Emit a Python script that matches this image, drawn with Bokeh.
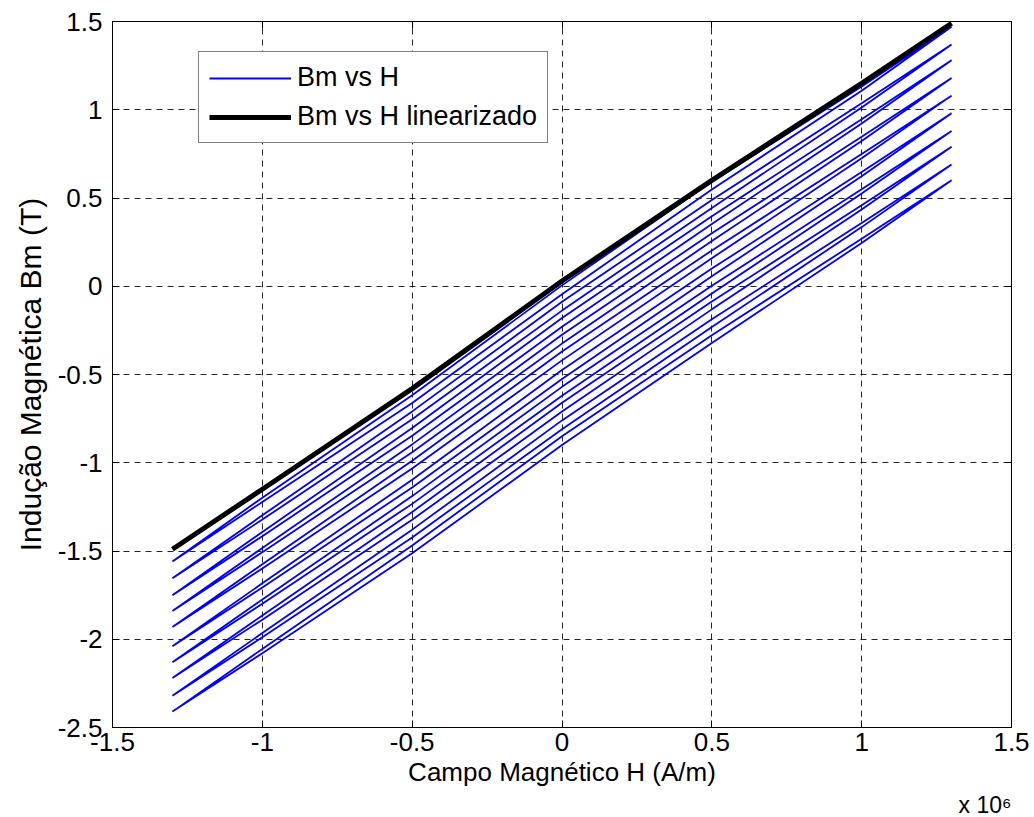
from bokeh.plotting import figure
from bokeh.models import (LinearAxis, FixedTicker, Legend, LegendItem, Title)
from bokeh.embed import file_html
from bokeh.resources import INLINE

# ---------------- data (H in units of 10^6 A/m, B in T) ----------------
H_pts = [-1.3, -1.0, -0.5, 0.0, 0.5, 1.0, 1.3]
B_linearizado = [-1.49, -1.15, -0.58, 0.03, 0.60, 1.15, 1.49]

# centre line of each measured Bm-H loop, read at H_pts
B_loop_centers = [
    [-1.56, -1.21, -0.64, -0.02, 0.57, 1.12, 1.47],
    [-1.655, -1.31, -0.731, -0.113, 0.466, 1.025, 1.37],
    [-1.75, -1.404, -0.825, -0.205, 0.375, 0.934, 1.28],
    [-1.84, -1.495, -0.918, -0.30, 0.278, 0.835, 1.18],
    [-1.93, -1.587, -1.011, -0.395, 0.181, 0.737, 1.08],
    [-2.04, -1.695, -1.118, -0.50, 0.078, 0.635, 0.98],
    [-2.13, -1.787, -1.211, -0.595, -0.019, 0.537, 0.88],
    [-2.22, -1.877, -1.301, -0.685, -0.109, 0.447, 0.79],
    [-2.32, -1.977, -1.401, -0.785, -0.209, 0.347, 0.69],
    [-2.41, -2.067, -1.491, -0.875, -0.299, 0.257, 0.60],
]
# half opening of the loops (distance of each branch from centre)
loop_half_width = [0.0, 0.012, 0.022, 0.025, 0.022, 0.012, 0.0]

x_ticks = [-1.5, -1.0, -0.5, 0.0, 0.5, 1.0, 1.5]
x_tick_labels = ["-1.5", "-1", "-0.5", "0", "0.5", "1", "1.5"]
y_ticks = [-2.5, -2.0, -1.5, -1.0, -0.5, 0.0, 0.5, 1.0, 1.5]
y_tick_labels = ["-2.5", "-2", "-1.5", "-1", "-0.5", "0", "0.5", "1", "1.5"]

# ---------------- build loops ----------------
loop_xs, loop_ys = [], []
for centers in B_loop_centers:
    lower = [c - w for c, w in zip(centers, loop_half_width)]
    upper = [c + w for c, w in zip(centers, loop_half_width)]
    loop_xs.append(H_pts + H_pts[::-1])
    loop_ys.append(lower + upper[::-1])

FONT = "Liberation Sans"

p = figure(width=1034, height=817, x_range=(-1.5, 1.5), y_range=(-2.5, 1.5),
           output_backend="svg", toolbar_location=None,
           min_border_left=112, min_border_right=23, min_border_top=21,
           min_border_bottom=88, x_axis_location=None, y_axis_location=None)
p.background_fill_color = "white"
p.border_fill_color = "white"
p.outline_line_color = "black"
p.outline_line_width = 1

def style_axis(ax, ticks, labels, show_labels):
    ax.ticker = FixedTicker(ticks=ticks)
    ax.major_tick_in = 7
    ax.major_tick_out = 0
    ax.minor_tick_line_color = None
    ax.axis_line_color = "black"
    ax.major_tick_line_color = "black"
    ax.major_label_text_font = FONT
    ax.major_label_text_color = "black"
    if show_labels:
        ax.major_label_overrides = {t: l for t, l in zip(ticks, labels)}
        ax.major_label_text_font_size = "26px"
    else:
        ax.major_label_overrides = {t: "" for t in ticks}
        ax.major_label_text_font_size = "1px"
        ax.major_label_standoff = 0

xb = LinearAxis(axis_label="Campo Magnético H (A/m)")
style_axis(xb, x_ticks, x_tick_labels, True)
xb.major_label_standoff = 5
xb.axis_label_text_font = FONT
xb.axis_label_text_font_size = "26px"
xb.axis_label_text_font_style = "normal"
xb.axis_label_text_color = "black"
xb.axis_label_standoff = 3
p.add_layout(xb, "below")

note = Title(text="x 10\u2076", align="right", text_font=FONT,
             text_font_size="23px", text_font_style="normal",
             text_color="black", standoff=0, offset=0)
p.add_layout(note, "below")

yl = LinearAxis(axis_label="Indução Magnética Bm (T)")
style_axis(yl, y_ticks, y_tick_labels, True)
yl.major_label_standoff = 10
yl.axis_label_text_font = FONT
yl.axis_label_text_font_size = "30px"
yl.axis_label_text_font_style = "normal"
yl.axis_label_text_color = "black"
yl.axis_label_standoff = 8
p.add_layout(yl, "left")

xt = LinearAxis()
style_axis(xt, x_ticks, x_tick_labels, False)
p.add_layout(xt, "above")
yr = LinearAxis()
style_axis(yr, y_ticks, y_tick_labels, False)
p.add_layout(yr, "right")

for g, ticks in ((p.xgrid, x_ticks), (p.ygrid, y_ticks)):
    g.ticker = FixedTicker(ticks=ticks)
    g.grid_line_color = "black"
    g.grid_line_alpha = 0.85
    g.grid_line_dash = "6 5"
    g.grid_line_width = 1

blue = p.multi_line(xs=loop_xs, ys=loop_ys, line_color="#0000FF", line_width=1.8)
black = p.line(x=H_pts, y=B_linearizado, line_color="black", line_width=5)

legend = Legend(items=[LegendItem(label="Bm vs H", renderers=[blue]),
                       LegendItem(label="Bm vs H linearizado", renderers=[black])],
                location=(86, 584))
legend.border_line_color = "black"
legend.border_line_width = 1
legend.background_fill_color = "white"
legend.background_fill_alpha = 1
legend.label_text_font = FONT
legend.label_text_font_size = "27px"
legend.label_text_color = "black"
legend.glyph_width = 82
legend.glyph_height = 26
legend.label_height = 26
legend.label_standoff = 6
legend.spacing = 8
legend.padding = 10
legend.margin = 0
p.add_layout(legend)

open("out.html", "w").write(file_html(p, INLINE))
